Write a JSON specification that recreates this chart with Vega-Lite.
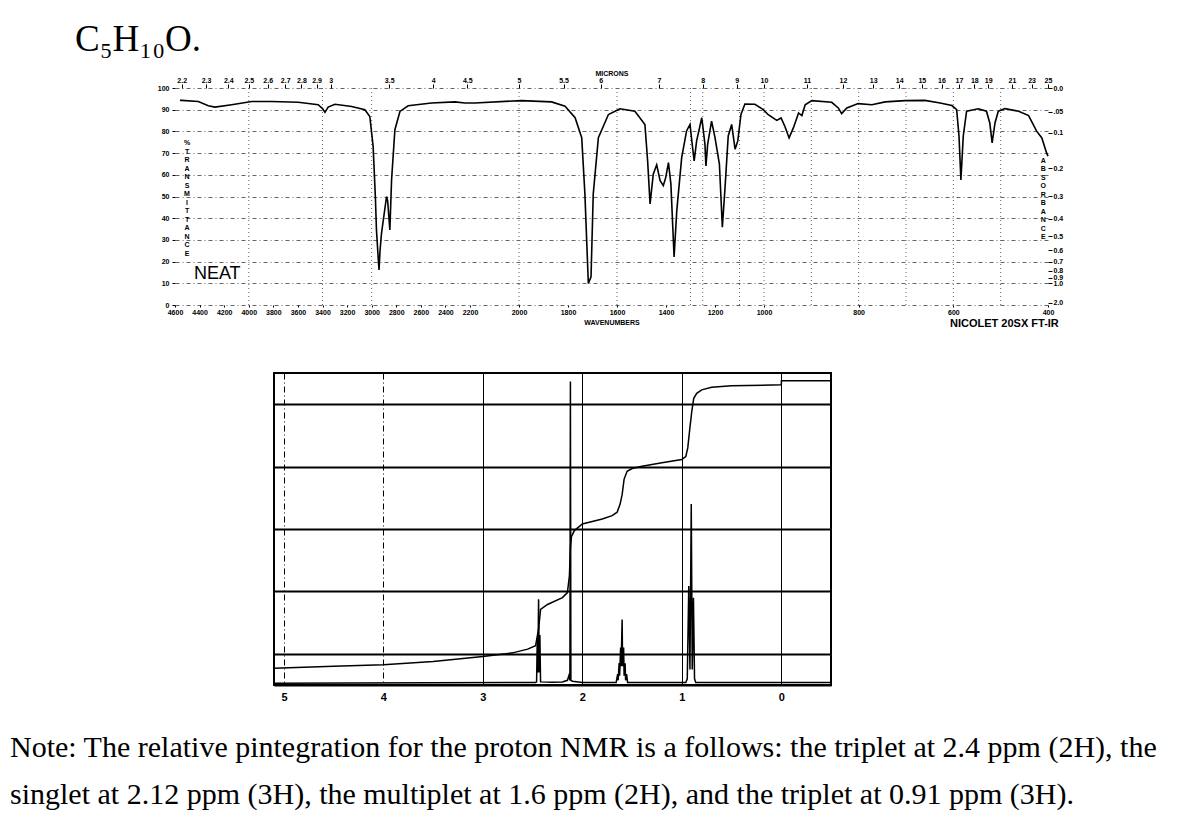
{
  "$schema": "https://vega.github.io/schema/vega-lite/v6.json",
  "background": "white",
  "padding": {"left": 10, "top": 21, "right": 5, "bottom": 5},
  "config": {"font": "Liberation Sans", "view": {"stroke": null}, "concat": {"spacing": 43}},
  "title": {
    "text": ["Note:  The relative pintegration for the proton NMR is a follows: the triplet at 2.4 ppm (2H), the", "singlet at 2.12 ppm (3H), the multiplet at 1.6 ppm (2H), and the triplet at 0.91 ppm (3H)."],
    "orient": "bottom", "anchor": "start", "frame": "group", "dx": -165, "offset": 30,
    "font": "Liberation Serif", "fontSize": 30, "fontWeight": "normal", "color": "black", "lineHeight": 47
  },
  "vconcat": [
    {
      "title": {"text": "C₅H₁₀O.", "anchor": "start", "frame": "group", "dx": -100, "offset": 10, "font": "Liberation Serif", "fontSize": 37, "fontWeight": "normal", "color": "black"},
      "width": 873,
      "height": 217,
      "resolve": {"axis": {"x": "independent", "y": "independent"}},
      "layer": [
        {
          "data": {"values": [{"wn": 4000}, {"wn": 3400}, {"wn": 3000}, {"wn": 2000}, {"wn": 1600}, {"wn": 1300}, {"wn": 1250}, {"wn": 1100}, {"wn": 1000}, {"wn": 900}, {"wn": 800}, {"wn": 700}, {"wn": 600}, {"wn": 500}]},
          "mark": {"type": "rule", "strokeDash": [1, 3], "color": "#666", "strokeWidth": 1},
          "encoding": {
            "x": {"field": "wn", "type": "quantitative",
              "scale": {"domain": [4600, 2200, 1000, 400], "range": [0, 295, 589, 873], "nice": false, "zero": false},
              "axis": {"orient": "bottom", "title": "WAVENUMBERS", "format": "d", "values": [4600, 4400, 4200, 4000, 3800, 3600, 3400, 3200, 3000, 2800, 2600, 2400, 2200, 2000, 1800, 1600, 1400, 1200, 1000, 800, 600, 400],
                "labelFont": "Liberation Sans", "labelFontWeight": "bold", "labelFontSize": 7, "labelColor": "black", "labelOverlap": false, "labelFlush": false,
                "titleFont": "Liberation Sans", "titleFontWeight": "bold", "titleFontSize": 7, "titleColor": "black", "titlePadding": 3,
                "domain": false, "grid": false, "tickSize": 2, "tickColor": "black", "labelPadding": 1}}
          }
        },
        {
          "data": {"values": [
            {"wn": 4560, "t": 94.3}, {"wn": 4545, "t": 94.3}, {"wn": 4410, "t": 93.8}, {"wn": 4329, "t": 91.8}, {"wn": 4275, "t": 91.2}, {"wn": 4139, "t": 92.3}, {"wn": 3976, "t": 93.8}, {"wn": 3814, "t": 93.8}, {"wn": 3597, "t": 93.4}, {"wn": 3435, "t": 92.3}, {"wn": 3400, "t": 90.5}, {"wn": 3380, "t": 88.8}, {"wn": 3354, "t": 91.2}, {"wn": 3299, "t": 92.5}, {"wn": 3163, "t": 91.5}, {"wn": 3055, "t": 90}, {"wn": 3015, "t": 86.9}, {"wn": 2988, "t": 73}, {"wn": 2970, "t": 50}, {"wn": 2961, "t": 34.6}, {"wn": 2945, "t": 20}, {"wn": 2940, "t": 16.2}, {"wn": 2932, "t": 25}, {"wn": 2920, "t": 33}, {"wn": 2879, "t": 50}, {"wn": 2870, "t": 48}, {"wn": 2852, "t": 34.6}, {"wn": 2838, "t": 57.7}, {"wn": 2811, "t": 80.8}, {"wn": 2770, "t": 89.2}, {"wn": 2703, "t": 91.8}, {"wn": 2513, "t": 93.1}, {"wn": 2323, "t": 93.6}, {"wn": 2241, "t": 93.1}, {"wn": 2180, "t": 93.1}, {"wn": 1990, "t": 94.2}, {"wn": 1867, "t": 93.6}, {"wn": 1812, "t": 91.6}, {"wn": 1771, "t": 86.3}, {"wn": 1744, "t": 77.1}, {"wn": 1731, "t": 51.1}, {"wn": 1717, "t": 9.9}, {"wn": 1706, "t": 13}, {"wn": 1697, "t": 51.1}, {"wn": 1676, "t": 77.1}, {"wn": 1635, "t": 87.8}, {"wn": 1588, "t": 90.4}, {"wn": 1527, "t": 89.3}, {"wn": 1486, "t": 83.2}, {"wn": 1475, "t": 66.4}, {"wn": 1465, "t": 46.6}, {"wn": 1452, "t": 60.3}, {"wn": 1438, "t": 64.6}, {"wn": 1424, "t": 57.3}, {"wn": 1411, "t": 55}, {"wn": 1401, "t": 58.8}, {"wn": 1390, "t": 65.6}, {"wn": 1380, "t": 55.7}, {"wn": 1367, "t": 22.1}, {"wn": 1356, "t": 43.5}, {"wn": 1336, "t": 67.9}, {"wn": 1316, "t": 80.2}, {"wn": 1302, "t": 83.2}, {"wn": 1293, "t": 74}, {"wn": 1285, "t": 66.4}, {"wn": 1275, "t": 75.6}, {"wn": 1254, "t": 86.3}, {"wn": 1241, "t": 74}, {"wn": 1237, "t": 64.1}, {"wn": 1230, "t": 74}, {"wn": 1214, "t": 84.7}, {"wn": 1200, "t": 77.1}, {"wn": 1182, "t": 64.9}, {"wn": 1170, "t": 35.9}, {"wn": 1159, "t": 54.2}, {"wn": 1146, "t": 77.9}, {"wn": 1132, "t": 83.2}, {"wn": 1118, "t": 71.8}, {"wn": 1107, "t": 75.6}, {"wn": 1094, "t": 87.8}, {"wn": 1078, "t": 92.6}, {"wn": 1037, "t": 92.5}, {"wn": 1003, "t": 90}, {"wn": 991, "t": 87.7}, {"wn": 973, "t": 85.1}, {"wn": 964, "t": 86.2}, {"wn": 956, "t": 82.4}, {"wn": 947, "t": 77}, {"wn": 938, "t": 81.6}, {"wn": 927, "t": 88.5}, {"wn": 920, "t": 87.3}, {"wn": 913, "t": 92.3}, {"wn": 899, "t": 94.2}, {"wn": 857, "t": 93.4}, {"wn": 843, "t": 90.8}, {"wn": 836, "t": 88.2}, {"wn": 825, "t": 90.8}, {"wn": 801, "t": 92.8}, {"wn": 772, "t": 92.3}, {"wn": 744, "t": 93.6}, {"wn": 702, "t": 94.2}, {"wn": 660, "t": 94.3}, {"wn": 628, "t": 93.1}, {"wn": 603, "t": 91.9}, {"wn": 593, "t": 90}, {"wn": 588, "t": 77.8}, {"wn": 584, "t": 57.6}, {"wn": 579, "t": 77.8}, {"wn": 572, "t": 89.3}, {"wn": 547, "t": 90.4}, {"wn": 530, "t": 89.3}, {"wn": 523, "t": 83.9}, {"wn": 518, "t": 74.7}, {"wn": 512, "t": 83.9}, {"wn": 505, "t": 89.3}, {"wn": 491, "t": 90.5}, {"wn": 462, "t": 89.3}, {"wn": 441, "t": 87.3}, {"wn": 424, "t": 80.1}, {"wn": 413, "t": 77}, {"wn": 403, "t": 70.1}, {"wn": 400, "t": 68.6}
          ]},
          "mark": {"type": "line", "color": "black", "strokeWidth": 1.6},
          "encoding": {
            "x": {"field": "wn", "type": "quantitative", "scale": {"domain": [4600, 2200, 1000, 400], "range": [0, 295, 589, 873], "nice": false, "zero": false}, "axis": null},
            "y": {"field": "t", "type": "quantitative", "scale": {"domain": [0, 100], "nice": false, "zero": false},
              "axis": {"orient": "left", "title": null, "values": [0, 10, 20, 30, 40, 50, 60, 70, 80, 90, 100],
                "labelFont": "Liberation Sans", "labelFontWeight": "bold", "labelFontSize": 7, "labelColor": "black", "labelOverlap": false, "labelFlush": false,
                "domain": false, "tickSize": 3, "tickColor": "black", "labelPadding": 3,
                "grid": true, "gridDash": [4, 3, 1, 3], "gridColor": "#555", "gridWidth": 0.9}}
          }
        },
        {
          "data": {"values": [
            {"wn": 4446, "t": 14.5, "txt": "NEAT"}
          ]},
          "mark": {"type": "text", "align": "left", "baseline": "middle", "fontSize": 18, "font": "Liberation Sans", "color": "black"},
          "encoding": {
            "x": {"field": "wn", "type": "quantitative", "scale": {"domain": [4600, 2200, 1000, 400], "range": [0, 295, 589, 873], "nice": false, "zero": false},
              "axis": {"orient": "top", "title": "MICRONS", "values": [4545.45, 4347.83, 4166.67, 4000, 3846.15, 3703.7, 3571.43, 3448.28, 3333.33, 2857.14, 2500, 2222.22, 2000, 1818.18, 1666.67, 1428.57, 1250, 1111.11, 1000, 909.09, 833.33, 769.23, 714.29, 666.67, 625, 588.24, 555.56, 526.32, 476.19, 434.78, 400],
                "labelExpr": "format(round(100000/datum.value)/10, '~g')",
                "labelFont": "Liberation Sans", "labelFontWeight": "bold", "labelFontSize": 7, "labelColor": "black", "labelOverlap": false, "labelFlush": false,
                "titleFont": "Liberation Sans", "titleFontWeight": "bold", "titleFontSize": 7, "titleColor": "black", "titlePadding": 0,
                "domain": false, "grid": false, "tickSize": 4, "tickColor": "black", "labelPadding": 1}},
            "y": {"field": "t", "type": "quantitative", "scale": {"domain": [0, 100], "nice": false, "zero": false},
              "axis": {"orient": "right", "title": null, "values": [100, 89.125, 79.433, 63.096, 50.119, 39.811, 31.623, 25.119, 19.953, 15.849, 12.589, 10, 1],
                "labelExpr": "datum.value >= 99 ? '0.0' : (datum.value > 85 ? '.05' : format(-log(datum.value/100)/LN10, '.1f'))",
                "labelFont": "Liberation Sans", "labelFontWeight": "bold", "labelFontSize": 7, "labelColor": "black", "labelOverlap": false, "labelFlush": false,
                "domain": false, "grid": false, "tickSize": 4, "tickColor": "black", "labelPadding": 1}},
            "text": {"field": "txt", "type": "nominal"}
          }
        },
        {
          "data": {"values": [
            {"wn": 4502, "t": 74.6, "txt": "%\nT\nR\nA\nN\nS\nM\nI\nT\nT\nA\nN\nC\nE"},
            {"wn": 410, "t": 66.5, "txt": "A\nB\nS\nO\nR\nB\nA\nN\nC\nE"}
          ]},
          "mark": {"type": "text", "align": "center", "baseline": "middle", "fontSize": 7, "fontWeight": "bold", "font": "Liberation Sans", "color": "black", "lineBreak": "\n", "lineHeight": 8.5},
          "encoding": {
            "x": {"field": "wn", "type": "quantitative", "scale": {"domain": [4600, 2200, 1000, 400], "range": [0, 295, 589, 873], "nice": false, "zero": false}, "axis": null},
            "y": {"field": "t", "type": "quantitative", "scale": {"domain": [0, 100], "nice": false, "zero": false}, "axis": null},
            "text": {"field": "txt", "type": "nominal"}
          }
        },
        {
          "data": {"values": [
            {"wn": 607, "t": -8.6, "txt": "NICOLET 20SX FT-IR"}
          ]},
          "mark": {"type": "text", "align": "left", "baseline": "middle", "fontSize": 11, "fontWeight": "bold", "font": "Liberation Sans", "color": "black"},
          "encoding": {
            "x": {"field": "wn", "type": "quantitative", "scale": {"domain": [4600, 2200, 1000, 400], "range": [0, 295, 589, 873], "nice": false, "zero": false}, "axis": null},
            "y": {"field": "t", "type": "quantitative", "scale": {"domain": [0, 100], "nice": false, "zero": false}, "axis": null},
            "text": {"field": "txt", "type": "nominal"}
          }
        }
      ]
    },
    {
      "spacing": 0,
      "hconcat": [
        {
          "width": 95,
          "height": 312,
          "data": {"values": [{"txt": ""}]},
          "mark": {"type": "text"},
          "encoding": {"text": {"field": "txt", "type": "nominal"}}
        },
        {
          "width": 557,
          "height": 312,
          "view": {"stroke": "black", "strokeWidth": 2},
          "layer": [
            {
              "data": {"values": [
                {"ppm": 5.1, "v": 5.4}, {"ppm": 4.5, "v": 6.0}, {"ppm": 4.0, "v": 6.5}, {"ppm": 3.5, "v": 7.5}, {"ppm": 3.0, "v": 9.1}, {"ppm": 2.7, "v": 10.3}, {"ppm": 2.55, "v": 11.5}, {"ppm": 2.47, "v": 12.6}, {"ppm": 2.44, "v": 18}, {"ppm": 2.42, "v": 24.2}, {"ppm": 2.35, "v": 25.8}, {"ppm": 2.2, "v": 28}, {"ppm": 2.15, "v": 29.6}, {"ppm": 2.13, "v": 35}, {"ppm": 2.12, "v": 44}, {"ppm": 2.11, "v": 47.5}, {"ppm": 2.08, "v": 49.5}, {"ppm": 2.0, "v": 51.6}, {"ppm": 1.8, "v": 53.2}, {"ppm": 1.7, "v": 54.3}, {"ppm": 1.65, "v": 55.4}, {"ppm": 1.62, "v": 58}, {"ppm": 1.6, "v": 61}, {"ppm": 1.58, "v": 66}, {"ppm": 1.55, "v": 68.5}, {"ppm": 1.5, "v": 69.4}, {"ppm": 1.4, "v": 70.1}, {"ppm": 1.2, "v": 71.2}, {"ppm": 1.0, "v": 72.3}, {"ppm": 0.96, "v": 73.2}, {"ppm": 0.94, "v": 76}, {"ppm": 0.92, "v": 82}, {"ppm": 0.9, "v": 87.6}, {"ppm": 0.88, "v": 91.9}, {"ppm": 0.85, "v": 93.5}, {"ppm": 0.8, "v": 94.6}, {"ppm": 0.7, "v": 95.4}, {"ppm": 0.5, "v": 95.9}, {"ppm": 0.0, "v": 96.2}, {"ppm": -0.002, "v": 97.5}, {"ppm": -0.5, "v": 97.5}
              ]},
              "mark": {"type": "line", "color": "black", "strokeWidth": 1.5},
              "encoding": {
                "x": {"field": "ppm", "type": "quantitative", "scale": {"domain": [-0.5, 5.1], "reverse": true, "nice": false, "zero": false},
                  "axis": {"title": null, "format": "d", "values": [5, 4, 3, 2, 1, 0], "labelFont": "Liberation Sans", "labelFontWeight": "bold", "labelFontSize": 11, "labelColor": "black", "labelPadding": 6, "ticks": false, "domain": true, "domainColor": "black", "domainWidth": 2,
                    "grid": true, "gridColor": "black", "gridWidth": 1, "gridDash": {"condition": {"test": "datum.value >= 4", "value": [6, 3, 1, 3]}, "value": []}}},
                "y": {"field": "v", "type": "quantitative", "scale": {"domain": [0, 100], "nice": false, "zero": false},
                  "axis": {"title": null, "values": [10, 20, 30, 40, 50, 60, 70, 80, 90], "labels": false, "ticks": false, "domain": false, "grid": true, "gridColor": "black", "gridWidth": 2}}
              }
            },
            {
              "data": {"values": [
                {"ppm": 5.1, "v": 0.6}, {"ppm": 2.47, "v": 0.8}, {"ppm": 2.46, "v": 1}, {"ppm": 2.453, "v": 15}, {"ppm": 2.447, "v": 4}, {"ppm": 2.44, "v": 27.5}, {"ppm": 2.433, "v": 4}, {"ppm": 2.427, "v": 16}, {"ppm": 2.42, "v": 1}, {"ppm": 2.3, "v": 0.9}, {"ppm": 2.2, "v": 1.0}, {"ppm": 2.15, "v": 1.5}, {"ppm": 2.135, "v": 3}, {"ppm": 2.125, "v": 1.5}, {"ppm": 2.12, "v": 97.3}, {"ppm": 2.115, "v": 1.5}, {"ppm": 2.1, "v": 1.2}, {"ppm": 2.0, "v": 0.8}, {"ppm": 1.66, "v": 0.8}, {"ppm": 1.645, "v": 3.5}, {"ppm": 1.64, "v": 1.5}, {"ppm": 1.63, "v": 7}, {"ppm": 1.625, "v": 3}, {"ppm": 1.615, "v": 12}, {"ppm": 1.61, "v": 6}, {"ppm": 1.6, "v": 21}, {"ppm": 1.595, "v": 6}, {"ppm": 1.585, "v": 12}, {"ppm": 1.58, "v": 3}, {"ppm": 1.57, "v": 7}, {"ppm": 1.565, "v": 1.5}, {"ppm": 1.555, "v": 3.5}, {"ppm": 1.545, "v": 0.8}, {"ppm": 0.96, "v": 0.8}, {"ppm": 0.945, "v": 2}, {"ppm": 0.93, "v": 31.7}, {"ppm": 0.918, "v": 5}, {"ppm": 0.905, "v": 58}, {"ppm": 0.895, "v": 5}, {"ppm": 0.883, "v": 28}, {"ppm": 0.872, "v": 2}, {"ppm": 0.86, "v": 0.8}, {"ppm": 0.5, "v": 0.8}, {"ppm": 0.0, "v": 0.8}, {"ppm": -0.5, "v": 0.8}
              ]},
              "mark": {"type": "line", "color": "black", "strokeWidth": 1.5},
              "encoding": {
                "x": {"field": "ppm", "type": "quantitative", "scale": {"domain": [-0.5, 5.1], "reverse": true, "nice": false, "zero": false}},
                "y": {"field": "v", "type": "quantitative", "scale": {"domain": [0, 100], "nice": false, "zero": false}}
              }
            }
          ]
        }
      ]
    }
  ]
}
